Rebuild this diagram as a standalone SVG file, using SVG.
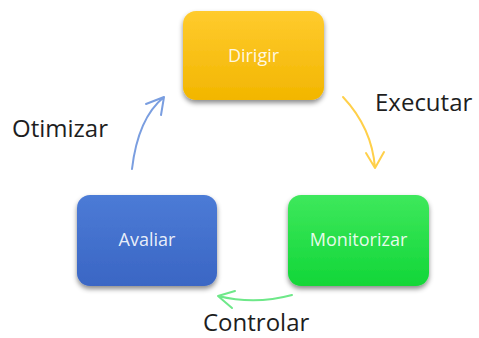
<svg xmlns="http://www.w3.org/2000/svg" width="479" height="338" viewBox="0 0 479 338">
  <defs>
    <linearGradient id="gYellow" x1="0" y1="0" x2="0" y2="1">
      <stop offset="0" stop-color="#FFCB2E"/>
      <stop offset="1" stop-color="#F2B600"/>
    </linearGradient>
    <linearGradient id="gGreen" x1="0" y1="0" x2="0" y2="1">
      <stop offset="0" stop-color="#3EE85C"/>
      <stop offset="1" stop-color="#12D638"/>
    </linearGradient>
    <linearGradient id="gBlue" x1="0" y1="0" x2="0" y2="1">
      <stop offset="0" stop-color="#4C7BD6"/>
      <stop offset="1" stop-color="#3A66C4"/>
    </linearGradient>
    <filter id="shadow" x="-20%" y="-20%" width="140%" height="150%">
      <feDropShadow dx="0" dy="3" stdDeviation="2.5" flood-color="#000" flood-opacity="0.45"/>
    </filter>
  </defs>
  <style>
    .box { filter: url(#shadow); }
    .boxlabel { font-family: "Open Sans", "Liberation Sans", sans-serif; font-size: 18px; fill: #ffffff; fill-opacity: 0.9; text-anchor: middle; }
    .edgelabel { font-family: "Open Sans", "Liberation Sans", sans-serif; font-size: 24px; fill: #1e1e1e; }
    .conn { fill: none; stroke-width: 2; stroke-linecap: round; stroke-linejoin: round; }
  </style>
  <rect width="479" height="338" fill="#ffffff"/>

  <g id="dirigir">
    <rect class="box" x="183" y="11" width="141" height="89" rx="13" fill="url(#gYellow)"/>
    <text class="boxlabel" x="253.5" y="62">Dirigir</text>
  </g>

  <g id="monitorizar">
    <rect class="box" x="288" y="195" width="141" height="91" rx="13" fill="url(#gGreen)"/>
    <text class="boxlabel" x="358.5" y="246">Monitorizar</text>
  </g>

  <g id="avaliar">
    <rect class="box" x="77" y="195" width="140" height="91" rx="13" fill="url(#gBlue)"/>
    <text class="boxlabel" x="147" y="246">Avaliar</text>
  </g>

  <g id="connectors">
    <!-- Avaliar to Dirigir -->
    <path class="conn" stroke="#7A9EE0" d="M132,169 Q138,118 164,97 M146,104 L164,97 L161,115"/>
    <!-- Dirigir to Monitorizar -->
    <path class="conn" stroke="#FFD04A" d="M343,97 Q372,128 375,168 M366,153 L375,168 L384,152"/>
    <!-- Monitorizar to Avaliar -->
    <path class="conn" stroke="#6EE889" d="M292,295 Q255,305 218,296 M235,291 L218,296 L232,308"/>
  </g>

  <g id="labels">
    <text class="edgelabel" x="12" y="137">Otimizar</text>
    <text class="edgelabel" x="375" y="111">Executar</text>
    <text class="edgelabel" x="203" y="331">Controlar</text>
  </g>
</svg>
